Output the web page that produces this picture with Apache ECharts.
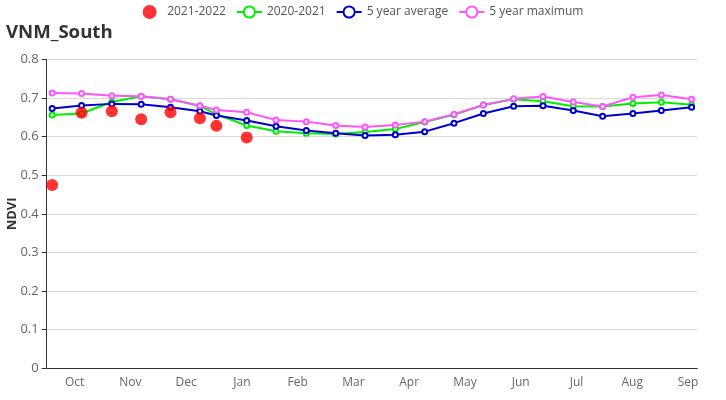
<!DOCTYPE html>
<html>
<head>
<meta charset="utf-8">
<script src="https://cdn.jsdelivr.net/npm/echarts@6/dist/echarts.min.js"></script>
<style>html,body{margin:0;padding:0;background:#fff;}#c{width:726px;height:400px;}</style>
</head>
<body>
<div id="c"></div>
<script>
// Axis categories (dekads of the season Oct..Sep, 35 shown)
var months = ['Oct','Nov','Dec','Jan','Feb','Mar','Apr','May','Jun','Jul','Aug','Sep'];
var yTicks = [0, 0.1, 0.2, 0.3, 0.4, 0.5, 0.6, 0.7, 0.8];
// Composite positions: days since 1 October
var days = [3, 19, 35.5, 51.5, 67.5, 83.5, 92.5, 109, 125, 141.5, 157.5, 173.5, 190, 206, 222, 238, 254.5, 270.5, 287, 303, 319.5, 335, 351.5];
var cur = [0.475, 0.662, 0.666, 0.645, 0.663, 0.648, 0.628, 0.598];
var prev = [0.656, 0.660, 0.690, 0.705, 0.697, 0.680, 0.658, 0.629, 0.614, 0.609, 0.607, 0.612, 0.620, 0.638, 0.657, 0.682, 0.697, 0.692, 0.679, 0.678, 0.686, 0.689, 0.683];
var avg5 = [0.673, 0.681, 0.685, 0.684, 0.676, 0.666, 0.655, 0.642, 0.627, 0.616, 0.609, 0.603, 0.605, 0.613, 0.635, 0.660, 0.679, 0.680, 0.668, 0.653, 0.660, 0.668, 0.676];
var max5 = [0.713, 0.712, 0.706, 0.705, 0.697, 0.680, 0.669, 0.663, 0.643, 0.639, 0.629, 0.625, 0.630, 0.639, 0.658, 0.682, 0.698, 0.704, 0.690, 0.678, 0.702, 0.708, 0.697];

var cats = [];
months.forEach(function (m, i) { var n = (i === months.length - 1) ? 2 : 3; for (var k = 0; k < n; k++) cats.push(m); });
function pairs(v) { return v.map(function (y, i) { return [days[i], y]; }); }

var font = 'Open Sans, Noto Sans, sans-serif';
var chart = echarts.init(document.getElementById('c'));
chart.setOption({
  animation: false,
  textStyle: { fontFamily: font },
  title: { text: 'VNM_South', left: 1, top: 18, textStyle: { fontSize: 18.6, fontWeight: 'bold', color: '#333', fontFamily: font } },
  legend: {
    top: 0, left: 'center', itemGap: 10, itemWidth: 25, itemHeight: 14,
    textStyle: { color: '#555', fontSize: 12, fontFamily: font },
    data: [{ name: '2021-2022', icon: 'circle' }, '2020-2021', '5 year average', '5 year maximum']
  },
  grid: { left: 46.7, right: 28.7, top: 59.5, bottom: 31.8, containLabel: false, outerBoundsMode: 'none' },
  xAxis: [{
    type: 'category', data: cats, boundaryGap: true,
    axisLine: { lineStyle: { color: '#333' } },
    axisTick: { interval: function (i) { return i % 3 === 0; }, lineStyle: { color: '#333' } },
    axisLabel: { interval: function (i) { return i % 3 === 1; }, color: '#666', fontSize: 12, margin: 8 },
    splitLine: { show: false }
  }, {
    type: 'value', min: 0, max: 354.6, show: false
  }],
  yAxis: {
    type: 'value', name: 'NDVI', nameLocation: 'middle', nameGap: 28, nameMoveOverlap: false,
    nameTextStyle: { fontWeight: 'bold', fontSize: 13, color: '#333' },
    min: yTicks[0], max: yTicks[yTicks.length - 1], interval: 0.1,
    axisLine: { show: true, lineStyle: { color: '#333' } },
    axisTick: { show: true, lineStyle: { color: '#333' } },
    axisLabel: { color: '#666', fontSize: 13 },
    splitLine: { lineStyle: { color: '#d9d9d9' } }
  },
  series: [
    { name: '2021-2022', type: 'scatter', xAxisIndex: 1, data: pairs(cur), symbolSize: 12, z: 5,
      itemStyle: { color: 'red', opacity: 0.8 } },
    { name: '2020-2021', type: 'line', xAxisIndex: 1, data: pairs(prev), symbol: 'emptyCircle', symbolSize: 5,
      itemStyle: { color: '#00ee00' }, lineStyle: { width: 2, color: '#00ee00' } },
    { name: '5 year average', type: 'line', xAxisIndex: 1, data: pairs(avg5), symbol: 'emptyCircle', symbolSize: 5,
      itemStyle: { color: '#0000cd' }, lineStyle: { width: 2, color: '#0000cd' } },
    { name: '5 year maximum', type: 'line', xAxisIndex: 1, data: pairs(max5), symbol: 'emptyCircle', symbolSize: 5,
      itemStyle: { color: '#ff55ff' }, lineStyle: { width: 2, color: '#ff55ff' } }
  ]
});
</script>
</body>
</html>
